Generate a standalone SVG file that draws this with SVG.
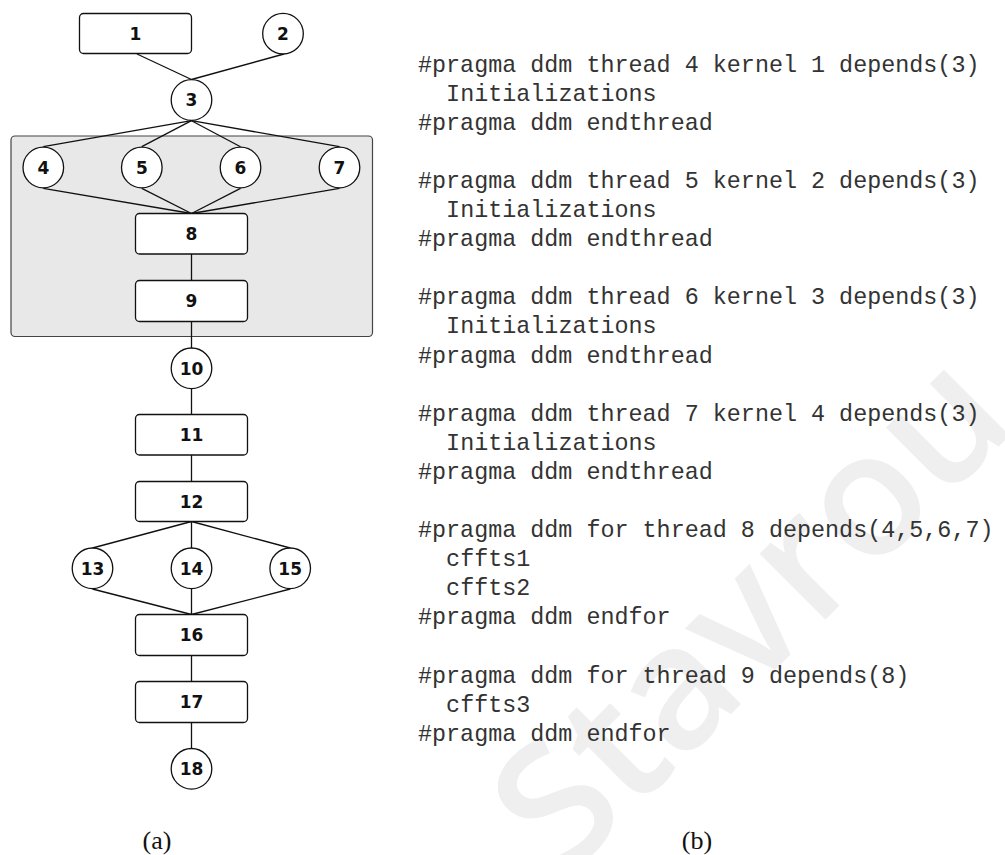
<svg xmlns="http://www.w3.org/2000/svg" width="1005" height="855" viewBox="0 0 1005 855">
<style>
.wm{font-family:"Open Sans","DejaVu Sans",sans-serif;font-size:172px;font-weight:600;fill:#efefef}
.grp{fill:#e8e8e8;stroke:#444;stroke-width:1.2}
.box{fill:#fff;stroke:#111;stroke-width:1.3}
.nd{fill:#fff;stroke:#111;stroke-width:1.3}
.lbl{font-family:"DejaVu Sans",Verdana,sans-serif;font-weight:bold;font-size:17px;fill:#111;text-anchor:middle}
.edge{stroke:#111;stroke-width:1.3;fill:none}
.code{font-family:"Liberation Mono","Courier New",monospace;font-size:23.4px;fill:#333}
.cap{font-family:"Liberation Serif","Times New Roman",serif;font-size:26px;fill:#111;text-anchor:middle}
</style>
<rect width="1005" height="855" fill="#fff"/>
<text class="wm" transform="translate(565,880) rotate(-45)">Stavrou</text>
<rect id="group-box" class="grp" x="11" y="136" width="361.5" height="200.5" rx="4"/>
<g id="connectors">
<line class="edge" x1="137" y1="54" x2="191.5" y2="79.5"/>
<line class="edge" x1="284" y1="54" x2="191.5" y2="79.5"/>
<line class="edge" x1="191.5" y1="120.7" x2="43.3" y2="146.7"/>
<line class="edge" x1="191.5" y1="120.7" x2="141.8" y2="146.7"/>
<line class="edge" x1="191.5" y1="120.7" x2="240.5" y2="146.7"/>
<line class="edge" x1="191.5" y1="120.7" x2="339.5" y2="146.7"/>
<line class="edge" x1="43.3" y1="188.3" x2="191.5" y2="213.5"/>
<line class="edge" x1="141.8" y1="188.3" x2="191.5" y2="213.5"/>
<line class="edge" x1="240.5" y1="188.3" x2="191.5" y2="213.5"/>
<line class="edge" x1="339.5" y1="188.3" x2="191.5" y2="213.5"/>
<line class="edge" x1="191.5" y1="254" x2="191.5" y2="280.5"/>
<line class="edge" x1="191.5" y1="321.5" x2="191.5" y2="348"/>
<line class="edge" x1="191.5" y1="389" x2="191.5" y2="414.5"/>
<line class="edge" x1="191.5" y1="455" x2="191.5" y2="481.5"/>
<line class="edge" x1="191.5" y1="521.5" x2="92.5" y2="548"/>
<line class="edge" x1="191.5" y1="521.5" x2="191.5" y2="548"/>
<line class="edge" x1="191.5" y1="521.5" x2="290.2" y2="548"/>
<line class="edge" x1="92.5" y1="589" x2="191.5" y2="614.5"/>
<line class="edge" x1="191.5" y1="589" x2="191.5" y2="614.5"/>
<line class="edge" x1="290.2" y1="589" x2="191.5" y2="614.5"/>
<line class="edge" x1="191.5" y1="655.5" x2="191.5" y2="681.5"/>
<line class="edge" x1="191.5" y1="722.5" x2="191.5" y2="748.5"/>
</g>
<g id="n1"><rect class="box" x="79.5" y="13.5" width="112" height="40" rx="4"/><text class="lbl" x="135.5" y="39.5">1</text></g>
<g id="n2"><circle class="nd" cx="283" cy="33.7" r="20.3"/><text class="lbl" x="283" y="39.8">2</text></g>
<g id="n3"><circle class="nd" cx="191.5" cy="100" r="20.3"/><text class="lbl" x="191.5" y="106.2">3</text></g>
<g id="n4"><circle class="nd" cx="43.3" cy="167.5" r="20.3"/><text class="lbl" x="43.3" y="173.7">4</text></g>
<g id="n5"><circle class="nd" cx="141.8" cy="167.5" r="20.3"/><text class="lbl" x="141.8" y="173.7">5</text></g>
<g id="n6"><circle class="nd" cx="240.5" cy="167.5" r="20.3"/><text class="lbl" x="240.5" y="173.7">6</text></g>
<g id="n7"><circle class="nd" cx="339.5" cy="167.5" r="20.3"/><text class="lbl" x="339.5" y="173.7">7</text></g>
<g id="n8"><rect class="box" x="135.5" y="213.5" width="112" height="40.5" rx="4"/><text class="lbl" x="191.5" y="240">8</text></g>
<g id="n9"><rect class="box" x="135.5" y="280.5" width="112" height="41" rx="4"/><text class="lbl" x="191.5" y="307.3">9</text></g>
<g id="n10"><circle class="nd" cx="191.5" cy="368.3" r="20.3"/><text class="lbl" x="191.5" y="374.5">10</text></g>
<g id="n11"><rect class="box" x="135.5" y="414.5" width="112" height="40.5" rx="4"/><text class="lbl" x="191.5" y="441">11</text></g>
<g id="n12"><rect class="box" x="135.5" y="481.5" width="112" height="40" rx="4"/><text class="lbl" x="191.5" y="507.8">12</text></g>
<g id="n13"><circle class="nd" cx="92.5" cy="568.3" r="20.3"/><text class="lbl" x="92.5" y="574.5">13</text></g>
<g id="n14"><circle class="nd" cx="191.5" cy="568.3" r="20.3"/><text class="lbl" x="191.5" y="574.5">14</text></g>
<g id="n15"><circle class="nd" cx="290.2" cy="568.3" r="20.3"/><text class="lbl" x="290.2" y="574.5">15</text></g>
<g id="n16"><rect class="box" x="135.5" y="614.5" width="112" height="41" rx="4"/><text class="lbl" x="191.5" y="641.3">16</text></g>
<g id="n17"><rect class="box" x="135.5" y="681.5" width="112" height="41" rx="4"/><text class="lbl" x="191.5" y="708.3">17</text></g>
<g id="n18"><circle class="nd" cx="191.5" cy="768.8" r="20.3"/><text class="lbl" x="191.5" y="775">18</text></g>
<g id="code" class="code">
<text x="418" y="71.5">#pragma ddm thread 4 kernel 1 depends(3)</text>
<text x="446.1" y="100.6">Initializations</text>
<text x="418" y="129.7">#pragma ddm endthread</text>
<text x="418" y="187.9">#pragma ddm thread 5 kernel 2 depends(3)</text>
<text x="446.1" y="217">Initializations</text>
<text x="418" y="246.1">#pragma ddm endthread</text>
<text x="418" y="304.3">#pragma ddm thread 6 kernel 3 depends(3)</text>
<text x="446.1" y="333.4">Initializations</text>
<text x="418" y="362.5">#pragma ddm endthread</text>
<text x="418" y="420.7">#pragma ddm thread 7 kernel 4 depends(3)</text>
<text x="446.1" y="449.8">Initializations</text>
<text x="418" y="478.9">#pragma ddm endthread</text>
<text x="418" y="537.1">#pragma ddm for thread 8 depends(4,5,6,7)</text>
<text x="446.1" y="566.2">cffts1</text>
<text x="446.1" y="595.3">cffts2</text>
<text x="418" y="624.4">#pragma ddm endfor</text>
<text x="418" y="682.6">#pragma ddm for thread 9 depends(8)</text>
<text x="446.1" y="711.7">cffts3</text>
<text x="418" y="740.8">#pragma ddm endfor</text>
</g>
<text class="cap" x="157" y="849">(a)</text>
<text class="cap" x="697" y="849">(b)</text>
</svg>
